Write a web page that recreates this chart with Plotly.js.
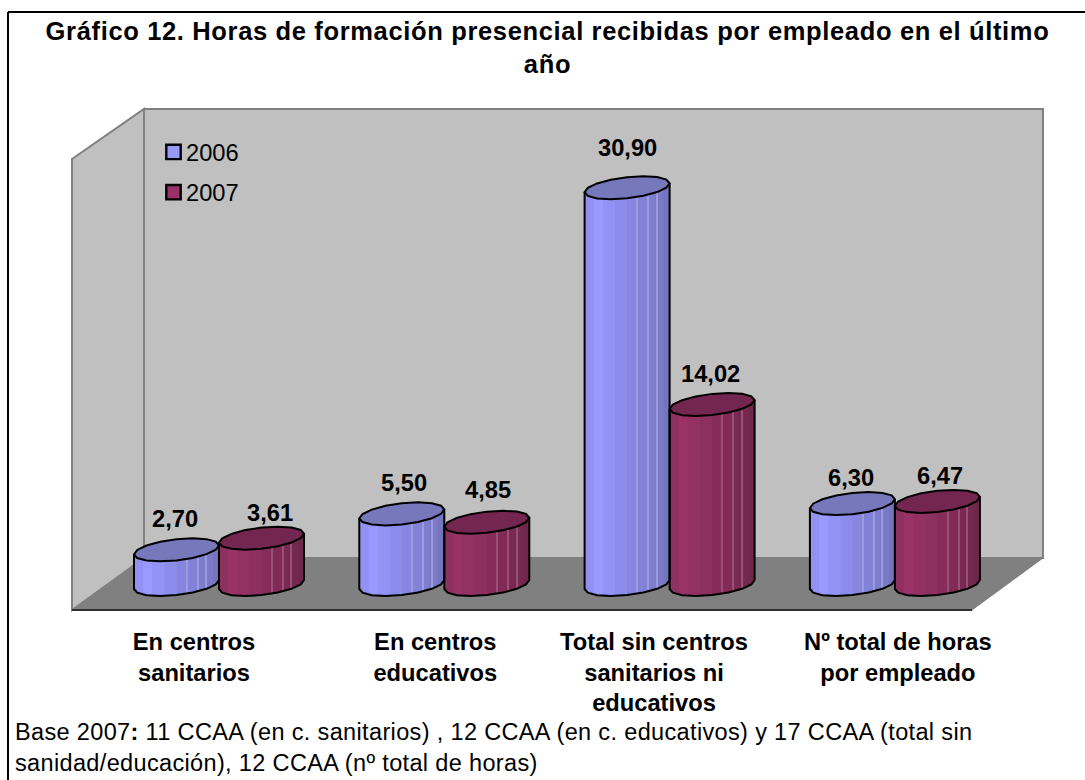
<!DOCTYPE html>
<html>
<head>
<meta charset="utf-8">
<script src="https://cdn.plot.ly/plotly-3.0.1.min.js"></script>
<style>
html,body{margin:0;padding:0;background:#fff}#chart{width:1085px;height:780px}
.gtitle{letter-spacing:.65px}
.annotation[data-index="8"] text{letter-spacing:.35px}
.legendpoints path{transform:translate(27.5px,0) scale(1.2) !important}
</style>
</head>
<body>
<div id="chart"></div>
<script>
// ---- data ----
const categories = ["En centros<br>sanitarios", "En centros<br>educativos", "Total sin centros<br>sanitarios ni<br>educativos", "Nº total de horas<br>por empleado"];
const values2006 = [2.70, 5.50, 30.90, 6.30];
const values2007 = [3.61, 4.85, 14.02, 6.47];
const seriesNames = ["2006", "2007"];
const titleText = "<b>Gráfico 12. Horas de formación presencial recibidas por empleado en el último<br>año</b>";
const footerText = "Base 2007<b>:</b> 11 CCAA (en c. sanitarios) , 12 CCAA (en c. educativos) y 17 CCAA (total sin<br>sanidad/educación), 12 CCAA (nº total de horas)";

// ---- style / layout constants ----
const W = 1085, H = 780, plotH = 610;
const FONT = '"Liberation Sans", Arial, sans-serif';
const FS = 23.7;
const pxPerCat = 225.3, firstCatPx = 219;
const pxPerUnit = 12.84, zeroPx = 584.5;
const halfW = 42.5, tilt = 4.5, ellB = 10.6;
const bandEnds = [.12, .22, .34, .5, .61, .74, .83, .93, 1];
const blueBands = ["#9292f4", "#9999ff", "#9393f5", "#8c8ceb", "#8787e2", "#8282d8", "#7e7ed0", "#7a7ac8", "#7575bd"];
const maroonBands = ["#8f3160", "#993366", "#933262", "#8c3060", "#862d5b", "#802b56", "#7a2a52", "#742a4f", "#6e284b"];
const lightLines = [.615, .745, .845];
const styles = [
  {bands: blueBands, main: "#9999ff", top: "#7777bb", light: "#9c9cdc", fill: "#8686e0"},
  {bands: maroonBands, main: "#993366", top: "#73264f", light: "#9a5076", fill: "#862d5b"}
];
const labelDx = [[-1.5, 2, 0, -1], [8, 1, -2, 3]];
const labelDy = [[31, 31, 40, 26], [25, 32, 30, 25]];
const tickDx = [-25, -9, -15.6, 3];
const STRIPS = 28;
const CAP_SIDES = 16;

const cx = p => (p - firstCatPx) / pxPerCat;      // px -> x data units (absolute)
const dxU = p => p / pxPerCat;                    // px length -> x units
const dyU = p => p / pxPerUnit;                   // px length -> y units
const px = p => p / W, py = p => 1 - p / plotH;   // page px -> paper

const allValues = [values2006, values2007];
const traces = [];
const shapes = [];
const annotations = [];

// walls + floor
function poly(pts, fill, lineColor, lw) {
  return {type: "path", xref: "paper", yref: "paper", layer: "below", fillcolor: fill,
    line: {color: lineColor, width: lw},
    path: "M" + pts.map(p => px(p[0]) + "," + py(p[1])).join("L") + "Z"};
}
shapes.push(poly([[144, 109], [1043, 109], [1043, 558], [144, 558]], "#c0c0c0", "#808080", 2));
shapes.push(poly([[72, 159], [144, 109], [144, 558], [72, 610]], "#c0c0c0", "#808080", 2));
shapes.push(poly([[72, 610], [144, 558], [1043, 558], [972, 610]], "#808080", "#808080", 1));
shapes.push({type: "line", xref: "paper", yref: "paper", layer: "below", x0: px(72), x1: px(972), y0: py(610), y1: py(610), line: {color: "#303030", width: 2}});
// frame: top and left rules only
shapes.push({type: "line", xref: "paper", yref: "paper", layer: "below", x0: px(8), x1: px(1085), y0: py(12), y1: py(12), line: {color: "#000", width: 2}});
shapes.push({type: "line", xref: "paper", yref: "paper", layer: "below", x0: px(8), x1: px(8), y0: py(12), y1: py(780), line: {color: "#000", width: 2}});

function bandColor(bands, f) {
  for (let i = 0; i < bandEnds.length; i++) if (f <= bandEnds[i]) return bands[i];
  return bands[bands.length - 1];
}
function ellipsePts(xc, yc, from, to, n) {
  const pts = [];
  for (let k = 0; k <= n; k++) {
    const t = from + (to - from) * k / n;
    pts.push([xc + dxU(halfW * Math.cos(t)), yc + dyU(tilt * Math.cos(t) + ellB * Math.sin(t))]);
  }
  return pts;
}
const toPath = pts => pts.map((p, i) => (i ? "L" : "M") + p[0] + "," + p[1]).join("");

allValues.forEach((vals, s) => {
  const st = styles[s];
  const centerOff = dxU(s === 0 ? -halfW : halfW);
  const xs = vals.map((_, i) => i);
  // the real value bar (also the legend key)
  traces.push({type: "bar", name: seriesNames[s], legendgroup: seriesNames[s], x: xs, y: vals,
    width: dxU(halfW * 1.4), offset: centerOff - dxU(halfW * 0.7),
    marker: {color: st.main, line: {color: "#000", width: 2}}, hoverinfo: "skip"});
  // shaded strips that make up the cylinder surface (slightly overlapping to avoid seams)
  for (let k = 0; k < STRIPS; k++) {
    const f0 = k / STRIPS, f1 = (k + 1) / STRIPS, fm = (f0 + f1) / 2;
    const um = 2 * fm - 1;
    const uEdge = Math.abs(2 * f0 - 1) > Math.abs(2 * f1 - 1) ? 2 * f0 - 1 : 2 * f1 - 1;
    const bottomPx = (u) => tilt * u - ellB * Math.sqrt(Math.max(0, 1 - u * u));
    const base = dyU(bottomPx(uEdge) + tilt * (um - uEdge) + 0.8);
    const tops = vals.map(v => v + dyU(tilt * um));
    const stripW = 2 * halfW / STRIPS + (k < STRIPS - 1 ? 1.2 : 0);
    traces.push({type: "bar", showlegend: false, hoverinfo: "skip", x: xs,
      y: tops.map(t => t - base), base: base,
      width: dxU(stripW), offset: centerOff - dxU(halfW) + dxU(2 * halfW * f0),
      marker: {color: bandColor(st.bands, fm), line: {width: 0}}});
  }
  lightLines.forEach(f => {
    const um = 2 * f - 1;
    const base = dyU(tilt * um - ellB * Math.sqrt(1 - um * um) + 0.8);
    traces.push({type: "bar", showlegend: false, hoverinfo: "skip", x: xs,
      y: vals.map(v => v + dyU(tilt * um) - base), base: base,
      width: dxU(1), offset: centerOff - dxU(halfW) + dxU(2 * halfW * f),
      marker: {color: st.light, line: {width: 0}}});
  });
});

// cylinder caps and outlines, drawn series by series so 2007 sits over 2006
allValues.forEach((vals, s) => {
  const st = styles[s];
  const off = s === 0 ? -halfW : halfW;
  vals.forEach((v, i) => {
    const xc = i + dxU(off);
    const lower = ellipsePts(xc, 0, Math.PI, 2 * Math.PI, CAP_SIDES / 2);
    shapes.push({type: "path", xref: "x", yref: "y", layer: "below", fillcolor: st.fill,
      line: {width: 0}, path: toPath(ellipsePts(xc, 0, 0, 2 * Math.PI, CAP_SIDES)) + "Z"});
    const leftTop = [xc - dxU(halfW), v + dyU(-tilt)];
    const rightTop = [xc + dxU(halfW), v + dyU(tilt)];
    shapes.push({type: "path", xref: "x", yref: "y", layer: "above",
      line: {color: "#000", width: 2},
      path: toPath([leftTop].concat(lower, [rightTop]))});
    shapes.push({type: "path", xref: "x", yref: "y", layer: "above", fillcolor: st.top,
      line: {color: "#000", width: 2},
      path: toPath(ellipsePts(xc, v, 0, 2 * Math.PI, CAP_SIDES)) + "Z"});
    annotations.push({xref: "x", yref: "y", x: xc, y: v, xshift: labelDx[s][i], yshift: labelDy[s][i],
      text: "<b>" + v.toFixed(2).replace(".", ",") + "</b>", showarrow: false,
      xanchor: "center", yanchor: "middle", font: {family: FONT, size: FS, color: "#000"}});
  });
});

annotations.push({xref: "paper", yref: "paper", x: px(13), y: py(717), xanchor: "left", yanchor: "top",
  align: "left", showarrow: false, text: footerText, font: {family: FONT, size: 23.5, color: "#000"}});

const layout = {
  width: W, height: H,
  margin: {l: 0, r: 0, t: 0, b: H - plotH, pad: 0},
  paper_bgcolor: "#fff", plot_bgcolor: "rgba(0,0,0,0)",
  barmode: "overlay", hovermode: false,
  font: {family: FONT, color: "#000", size: FS},
  title: {text: titleText, font: {family: FONT, size: 25.5, color: "#000"},
    x: 547.5 / W, xanchor: "center", xref: "paper", yref: "container", y: 1 - 40 / H, yanchor: "top", pad: {t: 0, b: 0}},
  xaxis: {type: "linear", range: [cx(0), cx(W)], showgrid: false, zeroline: false, showline: false,
    tickmode: "array", tickvals: categories.map((_, i) => i + dxU(tickDx[i])), ticktext: categories.map(c => "<b>" + c.split("<br>").join("</b><br><b>") + "</b>"),
    ticks: "", ticklabelstandoff: 15, tickangle: 0, tickfont: {family: FONT, size: FS, color: "#000"}},
  yaxis: {range: [(zeroPx - plotH) / pxPerUnit, zeroPx / pxPerUnit], showgrid: false, zeroline: false,
    showline: false, showticklabels: false, ticks: ""},
  legend: {x: px(146), y: py(130), xanchor: "left", yanchor: "top", bgcolor: "rgba(0,0,0,0)", borderwidth: 0,
    traceorder: "grouped", tracegroupgap: 6.5, font: {family: FONT, size: FS, color: "#000"}, itemclick: false, itemdoubleclick: false},
  showlegend: true,
  shapes: shapes,
  annotations: annotations
};
Plotly.newPlot("chart", traces, layout, {displayModeBar: false, responsive: false});
</script>
</body>
</html>
